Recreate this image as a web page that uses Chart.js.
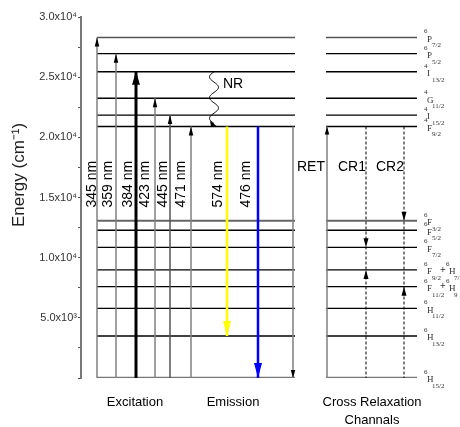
<!DOCTYPE html>
<html>
<head>
<meta charset="utf-8">
<script src="https://cdn.jsdelivr.net/npm/chart.js@4/dist/chart.umd.min.js"></script>
<style>
  html, body { margin: 0; padding: 0; background: #fff; }
  #wrap { width: 460px; height: 427px; position: relative; }
</style>
</head>
<body>
<div id="wrap"><canvas id="levels"></canvas></div>
<script>
// Dy3+ energy levels (cm-1), top to bottom
const levelNames = ['6P7/2', '6P5/2', '4I13/2', '4G11/2', '4I15/2', '4F9/2',
                    '6F3/2', '6F5/2', '6F7/2', '6F9/2', '6F11/2', '6H11/2', '6H13/2', '6H15/2'];
const levelEnergies = [28300, 26950, 25450, 23250, 21850, 20900,
                       13070, 12280, 10860, 8980, 7590, 5780, 3490, 0];
const termSpin   = ['6', '6', '4', '4', '4', '4', '6', '6', '6', '6', '6', '6', '6', '6'];
const termLetter = ['P', 'P', 'I', 'G', 'I', 'F', 'F', 'F', 'F', 'F', 'F', 'H', 'H', 'H'];
const termJ      = ['7/2', '5/2', '13/2', '11/2', '15/2', '9/2', '3/2', '5/2', '7/2', '9/2', '11/2', '11/2', '13/2', '15/2'];
// mixed levels carry a second term
const partnerTerms = { '6F9/2': ['6', 'H', '7/2'], '6F11/2': ['6', 'H', '9']};

const excitationNm = [345, 359, 384, 423, 445, 471];
const excitationTo = ['6P7/2', '6P5/2', '4I13/2', '4G11/2', '4I15/2', '4F9/2'];
const emissionNm = [574, 476];
const emissionFrom = '4F9/2';
const emissionTo = ['6H13/2', '6H15/2'];
// cross relaxation channels: [donor lands on, acceptor goes to]
const crNames = ['CR1', 'CR2'];
const crDown = ['6F7/2', '6F3/2'];
const crUp = ['6F9/2', '6F11/2'];

const tickValues = [5000, 10000, 15000, 20000, 25000, 30000];
const tickLabels = ['5.0x10\u00b3', '1.0x10\u2074', '1.5x10\u2074', '2.0x10\u2074', '2.5x10\u2074', '3.0x10\u2074'];

const E = name => levelEnergies[levelNames.indexOf(name)];

// horizontal layout (x units along the diagram)
const panelLeft = [16, 214];
const panelRight = [245, 336];
const exX = [16, 35, 55, 74, 89, 110];
const exLabelX = [11, 27, 47, 64, 82, 100];
const emX = [146, 177];
const emLabelX = [137, 165];
const nrX = 133;
const retDownX = 212, retUpX = 246;
const crX = [285, 323];
const groupTitles = [['Excitation', 54], ['Emission', 152], ['Cross Relaxation', 291]];

const datasets = [];
function seg(x0, y0, x1, y1, color, width, extra) {
    datasets.push(Object.assign({
        data: [{ x: x0, y: y0 }, { x: x1, y: y1 }],
        borderColor: color,
        borderWidth: width,
        pointRadius: 0,
        fill: false,
        tension: 0,
        order: 1
    }, extra || {}));
}

// energy levels in both panels
const greyLevels = { '6P7/2': ['#555', 1.5], '6F3/2': ['#666', 2], '6H15/2': ['#777', 2.5] };
levelNames.forEach((n, i) => {
    const st = greyLevels[n] || ['#000', 1.3];
    seg(panelLeft[0], levelEnergies[i], panelLeft[1], levelEnergies[i], st[0], st[1], { order: 2 });
    seg(panelRight[0], levelEnergies[i], panelRight[1], levelEnergies[i], st[0], st[1], { order: 2 });
});

// excitation arrows from the ground state
excitationTo.forEach((to, i) => {
    const strong = excitationNm[i] === 384;
    seg(exX[i], 0, exX[i], E(to), strong ? '#000' : (i === 4 ? '#555' : '#808080'), strong ? 3 : 1.5,
        { head: strong ? { w: 8, h: 13, color: '#000' } : { w: 4.5, h: 9, color: '#000' } });
});

// emission arrows
const emColors = ['#ffff00', '#0000ff'];
emissionTo.forEach((to, i) => {
    seg(emX[i], E(emissionFrom), emX[i], E(to), emColors[i], 2.5,
        { head: { w: 8, h: 15, color: emColors[i] } });
});

// energy transfer
seg(retDownX, E('4F9/2'), retDownX, 0, '#808080', 1.5, { head: { w: 4.5, h: 8, color: '#000' } });
seg(retUpX, 0, retUpX, E('4F9/2'), '#808080', 1.5, { head: { w: 4.5, h: 8, color: '#000' } });

// cross relaxation paths
crX.forEach(x => seg(x, E('4F9/2'), x, 0, '#000', 1, { borderDash: [3, 2] }));

function drawHead(ctx, x, tipY, dir, w, h, color) {
    ctx.save();
    ctx.fillStyle = color;
    ctx.beginPath();
    ctx.moveTo(x, tipY);
    ctx.lineTo(x - w / 2, tipY - dir * h);
    ctx.lineTo(x + w / 2, tipY - dir * h);
    ctx.closePath();
    ctx.fill();
    ctx.restore();
}

function term(ctx, x, y, spin, letter, j) {
    ctx.font = '7px "Liberation Serif", serif';
    ctx.fillText(spin, x, y - 8);
    ctx.font = '9px "Liberation Serif", serif';
    ctx.fillText(letter, x + 3, y);
    ctx.font = '7px "Liberation Serif", serif';
    ctx.fillText(j, x + 8, y + 6);
}

const diagramPlugin = {
    id: 'diagram',
    afterDatasetsDraw(chart) {
        const ctx = chart.ctx;
        const xs = chart.scales.x, ys = chart.scales.y;

        chart.data.datasets.forEach((d, i) => {
            if (!d.head) return;
            const pts = chart.getDatasetMeta(i).data;
            const dir = pts[1].y > pts[0].y ? 1 : -1;
            drawHead(ctx, pts[1].x, pts[1].y, dir, d.head.w, d.head.h, d.head.color);
        });

        crX.forEach((x, i) => {
            const px = xs.getPixelForValue(x);
            drawHead(ctx, px, ys.getPixelForValue(E(crDown[i])), 1, 5, 9, '#000');
            drawHead(ctx, px, ys.getPixelForValue(E(crUp[i])), -1, 5, 9, '#000');
        });

        // non-radiative relaxation (wavy)
        const wx = xs.getPixelForValue(nrX);
        const wy0 = ys.getPixelForValue(E('4I13/2'));
        const wy1 = ys.getPixelForValue(E('4F9/2')) - 3;
        ctx.save();
        ctx.strokeStyle = '#000';
        ctx.lineWidth = 1;
        ctx.beginPath();
        for (let k = 0; k <= 80; k++) {
            const t = k / 80;
            const px = wx - 4.5 * Math.sin(t * Math.PI * 5);
            const py = wy0 + (wy1 - wy0) * t;
            k ? ctx.lineTo(px, py) : ctx.moveTo(px, py);
        }
        ctx.stroke();
        ctx.beginPath();
        ctx.moveTo(wx + 3, wy1 + 3);
        ctx.lineTo(wx - 4, wy1 - 3);
        ctx.lineTo(wx - 3, wy1 + 3);
        ctx.closePath();
        ctx.fill();
        ctx.restore();
    },
    afterDraw(chart) {
        const ctx = chart.ctx;
        const xs = chart.scales.x, ys = chart.scales.y, area = chart.chartArea;
        ctx.save();
        ctx.fillStyle = '#000';
        ctx.textBaseline = 'middle';

        // wavelength labels
        ctx.font = '14px "Liberation Sans", Arial, sans-serif';
        ctx.textAlign = 'center';
        const ly = ys.getPixelForValue(16100);
        const nmLabel = (x, nm) => {
            ctx.save();
            ctx.translate(xs.getPixelForValue(x), ly);
            ctx.rotate(-Math.PI / 2);
            ctx.fillText(nm + ' nm', 0, 0);
            ctx.restore();
        };
        excitationNm.forEach((nm, i) => nmLabel(exLabelX[i], nm));
        emissionNm.forEach((nm, i) => nmLabel(emLabelX[i], nm));

        ctx.textAlign = 'left';
        const ty = ys.getPixelForValue(17500);
        ctx.fillText('RET', xs.getPixelForValue(216), ty);
        ctx.fillText('NR', xs.getPixelForValue(142), ys.getPixelForValue(24400));
        ctx.textAlign = 'center';
        crNames.forEach((n, i) => ctx.fillText(n, xs.getPixelForValue(crX[i] - 14), ty));

        // group titles under the panels
        ctx.font = '13px "Liberation Sans", Arial, sans-serif';
        groupTitles.forEach(([t, x]) => ctx.fillText(t, xs.getPixelForValue(x), area.bottom + 24));
        ctx.fillText('Channals', xs.getPixelForValue(291), area.bottom + 42);

        // term symbols beside the right panel
        ctx.fillStyle = '#333';
        ctx.textAlign = 'left';
        const tx = xs.getPixelForValue(panelRight[1]) + 7;
        levelNames.forEach((n, i) => {
            const y = ys.getPixelForValue(levelEnergies[i]) + 2;
            term(ctx, tx, y, termSpin[i], termLetter[i], termJ[i]);
            const p = partnerTerms[n];
            if (p) {
                ctx.font = 'bold 10px "Liberation Serif", serif';
                ctx.fillText('+', tx + 16, y - 2);
                term(ctx, tx + 22, y, p[0], p[1], p[2]);
            }
        });

        // axis title
        ctx.fillStyle = '#222';
        ctx.font = '17px "Liberation Sans", Arial, sans-serif';
        ctx.textAlign = 'center';
        ctx.translate(19, 175);
        ctx.rotate(-Math.PI / 2);
        ctx.fillText('Energy (cm\u207b\u00b9)', 0, 0);
        ctx.restore();
    }
};

new Chart(document.getElementById('levels').getContext('2d'), {
    type: 'line',
    data: { datasets: datasets },
    options: {
        responsive: true,
        maintainAspectRatio: false,
        animation: false,
        devicePixelRatio: 1,
        layout: { padding: { top: 17, bottom: 49, left: 0, right: 0 } },
        plugins: { legend: { display: false }, tooltip: { enabled: false } },
        scales: {
            x: { type: 'linear', min: 0, max: 379, display: false },
            y: {
                type: 'linear',
                min: 0,
                max: 30000,
                afterFit: s => { s.width = 81; },
                border: { display: true, color: '#777', width: 2 },
                grid: { drawOnChartArea: false, tickLength: 3, color: '#555' },
                ticks: {
                    stepSize: 2500,
                    padding: 1,
                    color: '#333',
                    font: { size: 11, family: '"Liberation Sans", Arial, sans-serif' },
                    callback: v => {
                        const k = tickValues.indexOf(v);
                        return k >= 0 ? tickLabels[k] : '';
                    }
                }
            }
        }
    },
    plugins: [diagramPlugin]
});
</script>
</body>
</html>
